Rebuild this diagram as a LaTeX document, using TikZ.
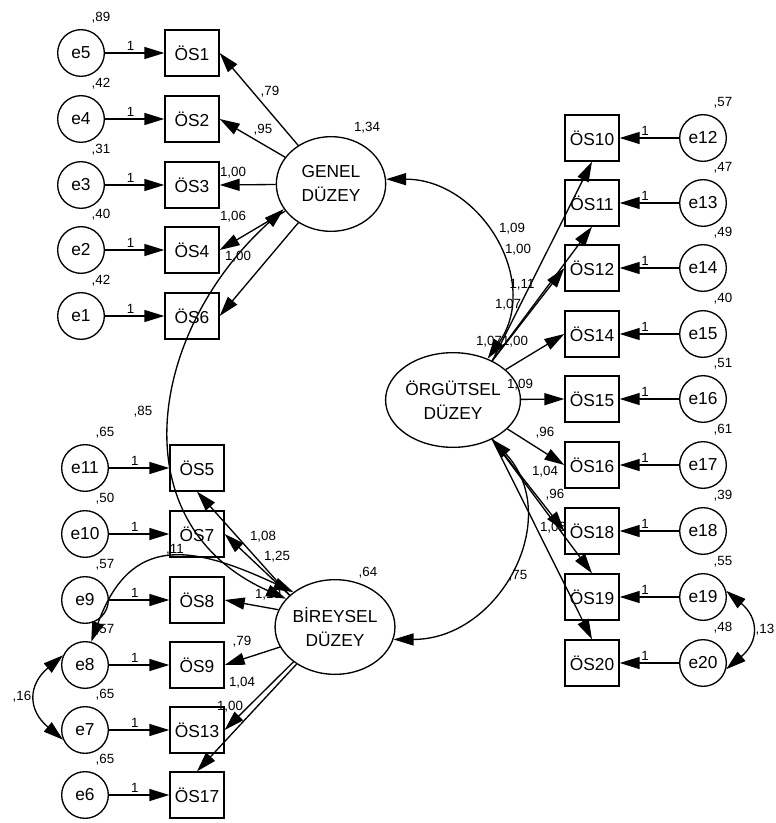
\documentclass[tikz,border=0pt]{standalone}
\usepackage{fontspec}
\setmainfont{Liberation Sans}
\usepackage{tikz}
\usetikzlibrary{
  arrows.meta,
  positioning,
  shapes.geometric,
  calc
}

\begin{document}
\begin{tikzpicture}[x=0.75pt, y=-0.75pt,
  obsbox/.style={draw, line width=1pt, minimum width=40.5pt,
    minimum height=34.5pt, inner sep=0pt, font=\fontsize{13}{15}\selectfont},
  errcirc/.style={draw, circle, line width=1pt, minimum size=35pt,
    inner sep=0pt, font=\fontsize{13}{15}\selectfont},
  latent/.style={draw, ellipse, line width=1pt, minimum width=82pt,
    minimum height=71pt, inner sep=0pt, align=center,
    font=\fontsize{13}{18}\selectfont},
  lbl/.style={font=\fontsize{10}{11}\selectfont, inner sep=0pt},
  loading/.style={-{Triangle[length=15pt, width=9pt]}, line width=1pt},
  covar/.style={{Triangle[length=15pt, width=9pt]}-{Triangle[length=15pt, width=9pt]},
    line width=1pt}
]
  \useasboundingbox (0,0) rectangle (775,823);

  % Latent factors
  \node[latent] (gen) at (331,184) {GENEL\\DÜZEY};
  \node[latent] (org) at (453,400) {ÖRGÜTSEL\\DÜZEY};
  \node[latent] (bir) at (335,627) {BİREYSEL\\DÜZEY};

  % GENEL indicators with their error terms
  \foreach \o/\e/\y/\v in {1/5/53/{,89}, 2/4/119/{,42}, 3/3/185/{,31},
                           4/2/250/{,40}, 6/1/316/{,42}}{
    \node[obsbox] (os\o) at (192,\y) {ÖS\o};
    \node[errcirc] (e\e) at (81,\y) {e\e};
    \draw[loading] (e\e) -- (os\o) node[lbl, pos=0.43, above=1.5pt] {1};
    \node[lbl] at ($(e\e)+(20,-35)$) {\v};
    \draw[loading] (gen) -- (os\o.east);
  }

  % BIREYSEL indicators
  \foreach \o/\e/\y/\v in {5/11/468/{,65}, 7/10/534/{,50}, 8/9/600/{,57},
                           9/8/665/{,57}, 13/7/730/{,65}, 17/6/795/{,65}}{
    \node[obsbox] (os\o) at (197,\y) {ÖS\o};
    \node[errcirc] (e\e) at (85,\y) {e\e};
    \draw[loading] (e\e) -- (os\o) node[lbl, pos=0.43, above=1.5pt] {1};
    \node[lbl] at ($(e\e)+(20,-35)$) {\v};
  }
  \draw[loading] (bir.145) -- (os5.south);
  \draw[loading] (bir.145) -- (os7.east);
  \draw[loading] (bir.163) -- (os8.east);
  \draw[loading] (bir.200) -- (os9.east);
  \draw[loading] (bir.220) -- (os13.east);
  \draw[loading] (bir.224) -- (os17.north);

  % ORGUTSEL indicators
  \foreach \o/\e/\y/\v in {10/12/138/{,57}, 11/13/203/{,47}, 12/14/268/{,49},
                           14/15/334/{,40}, 15/16/399/{,51}, 16/17/465/{,61},
                           18/18/531/{,39}, 19/19/597/{,55}, 20/20/663/{,48}}{
    \node[obsbox] (os\o) at (592,\y) {ÖS\o};
    \node[errcirc] (e\e) at (703,\y) {e\e};
    \draw[loading] (e\e) -- (os\o) node[lbl, pos=0.57, above=1.5pt] {1};
    \node[lbl] at ($(e\e)+(20,-35)$) {\v};
  }
  \draw[loading] (org.45) -- (os10.south);
  \draw[loading] (org.45) -- (os11.south);
  \draw[loading] (org.45) -- (os12.west);
  \draw[loading] (org.30) -- (os14.west);
  \draw[loading] (org) -- (os15.west);
  \draw[loading] (org.-28) -- (os16.west);
  \draw[loading] (org.-45) -- (os18.west);
  \draw[loading] (org.-45) -- (os19.north);
  \draw[loading] (org.-45) -- (os20.north);

  % Covariances
  \draw[covar] (gen.5) to[out=0, in=55, looseness=1.17] (org.50);
  \draw[covar] (org.-45) to[out=-47, in=0, looseness=1.22] (bir.-12);
  \draw[covar] (gen.208) to[out=222, in=156, looseness=1.2] (bir.150);
  \draw[covar] (e8.75) to[out=70, in=155, looseness=1.4] (bir.140);
  \draw[covar] (e8.156) to[out=220, in=140, looseness=1.4] (e7.204);
  \draw[covar] (e19.15) to[out=-40, in=40, looseness=1.4] (e20.-15);

  % Estimates
  \foreach \x/\y/\t in {270/92/{,79}, 263/130/{,95}, 233/173/{1,00},
      233/217/{1,06}, 238/257/{1,00}, 367/128/{1,34}, 143/412/{,85},
      512/229/{1,09}, 518/250/{1,00}, 522/285/{1,11}, 508/305/{1,07},
      489/342/{1,07}, 515/342/{1,00}, 520/385/{1,09}, 545/433/{,96},
      545/472/{1,04}, 555/495/{,96}, 553/528/{1,06}, 518/576/{,75},
      263/537/{1,08}, 277/557/{1,25}, 268/595/{1,10}, 242/642/{,79},
      242/683/{1,04}, 230/707/{1,00}, 368/573/{,64}, 175/550/{,11},
      22/697/{,16}, 765/630/{,13}}{
    \node[lbl] at (\x,\y) {\t};
  }
\end{tikzpicture}
\end{document}
